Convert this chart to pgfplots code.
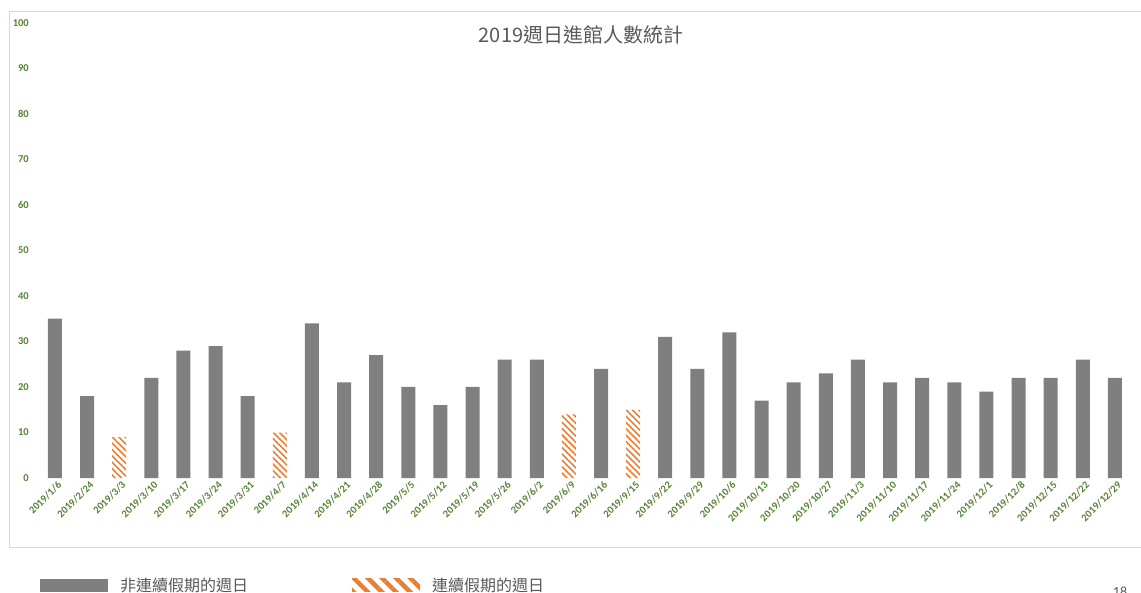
\documentclass[border=0pt]{standalone}
\usepackage{pgfplots}
\pgfplotsset{compat=1.18}
\usepackage{fontspec}
\setmainfont{Carlito}
\newfontfamily\cjk{Noto Sans CJK TC}
\usetikzlibrary{patterns.meta}
\definecolor{bargray}{HTML}{7F7F7F}
\definecolor{hatchorange}{HTML}{ED7D31}
\definecolor{tickgreen}{HTML}{548235}
\definecolor{titlegray}{HTML}{595959}
\definecolor{framegray}{HTML}{D9D9D9}
\begin{document}
\begin{tikzpicture}[x=1pt,y=1pt]
\useasboundingbox (0,0) rectangle (1141,592);
\draw[framegray, line width=1pt] (1141,580) -- (9,580) -- (9,44) -- (1141,44);
\node[text=titlegray, font=\cjk\fontsize{20}{24}\selectfont] at (581,557) {2019週日進館人數統計};
\node[text=titlegray, font=\fontsize{14}{16}\selectfont, anchor=base] at (1120,-4) {18};
\begin{axis}[
  at={(29.3pt,114pt)}, anchor=south west,
  scale only axis, width=1111.3pt, height=455pt,
  xmin=-0.8, xmax=33.8, ymin=0, ymax=100,
  ytick={0,10,...,100},
  xtick={0,...,33},
  xticklabels={2019/1/6,2019/2/24,2019/3/3,2019/3/10,2019/3/17,2019/3/24,2019/3/31,2019/4/7,2019/4/14,2019/4/21,2019/4/28,2019/5/5,2019/5/12,2019/5/19,2019/5/26,2019/6/2,2019/6/9,2019/6/16,2019/9/15,2019/9/22,2019/9/29,2019/10/6,2019/10/13,2019/10/20,2019/10/27,2019/11/3,2019/11/10,2019/11/17,2019/11/24,2019/12/1,2019/12/8,2019/12/15,2019/12/22,2019/12/29},
  axis line style={draw=none},
  major tick length=0pt,
  /pgf/number format/assume math mode=true,
  yticklabel style={font=\fontsize{10.5}{12}\selectfont\bfseries, text=tickgreen, xshift=3pt},
  xticklabel style={font=\fontsize{10.5}{12}\selectfont\bfseries, text=tickgreen, rotate=45, anchor=east, xshift=3pt, yshift=-7pt},
  ybar, bar width=14pt,
  legend columns=2,
  legend style={at={(axis description cs:0.0096,-0.2352)}, anchor=west, draw=none, fill=none, inner sep=0pt,
    font=\cjk\fontsize{16}{18}\selectfont, text=titlegray,
    /tikz/every odd column/.append style={column sep=10pt},
    /tikz/every even column/.append style={column sep=102pt}},
  legend image code/.code={\fill[#1] (0pt,-6.5pt) rectangle (68pt,6.5pt);},
]
\addplot[fill=bargray, draw=none, bar shift=0pt] coordinates {
(0,35) (1,18) (3,22) (4,28) (5,29) (6,18) (8,34) (9,21) (10,27) (11,20) (12,16) (13,20) (14,26) (15,26) (17,24) (19,31) (20,24) (21,32) (22,17) (23,21) (24,23) (25,26) (26,21) (27,22) (28,21) (29,19) (30,22) (31,22) (32,26) (33,22)
};
\addlegendentry{非連續假期的週日}
\addplot[draw=none, bar shift=0pt, pattern={Lines[angle=-45, distance=4.5pt, line width=1.6pt]}, pattern color=hatchorange,
  legend image code/.code={\fill[pattern={Lines[angle=-45, distance=10pt, line width=4.5pt]}, pattern color=hatchorange] (0pt,-6.5pt) rectangle (68pt,6.5pt);}] coordinates {
(2,9) (7,10) (16,14) (18,15)
};
\addlegendentry{連續假期的週日}
\end{axis}
\end{tikzpicture}
\end{document}
